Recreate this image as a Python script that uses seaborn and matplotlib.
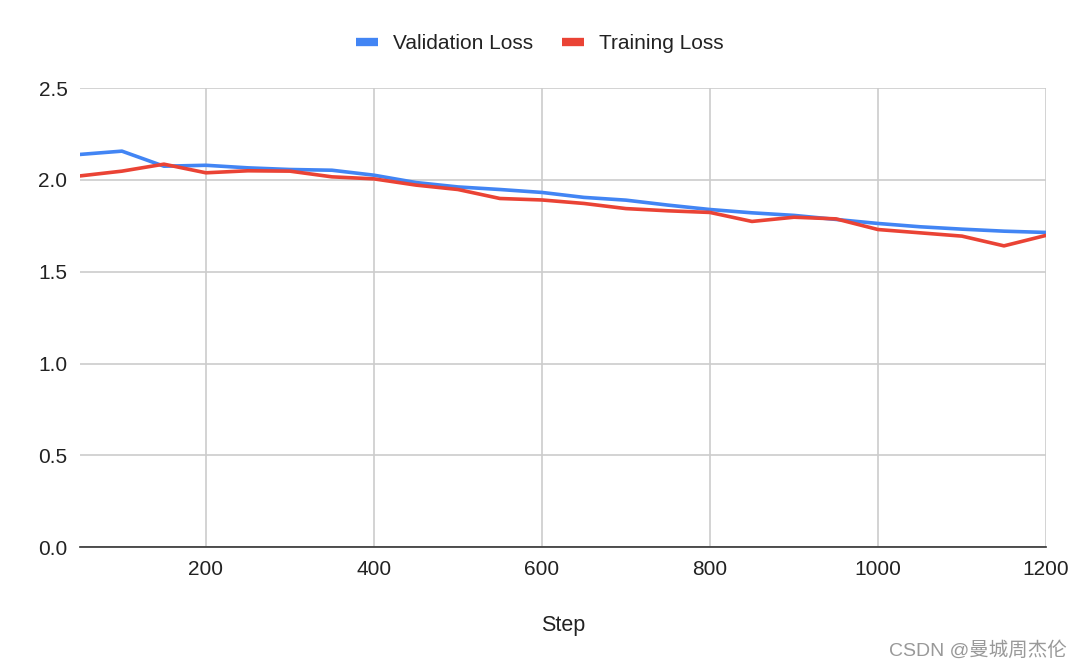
import numpy as np
import pandas as pd
import matplotlib
matplotlib.use('Agg')
import matplotlib.pyplot as plt
import seaborn as sns
sns.set_style('white')
plt.rcParams['font.family'] = ['Liberation Sans', 'Noto Sans CJK SC', 'DejaVu Sans']

steps = [50, 100, 150, 200, 250, 300, 350, 400, 450, 500, 550, 600,
         650, 700, 750, 800, 850, 900, 950, 1000, 1050, 1100, 1150, 1200]
val_loss = [2.139, 2.157, 2.075, 2.080, 2.066, 2.057, 2.053, 2.026, 1.986, 1.962, 1.948, 1.932,
            1.905, 1.890, 1.863, 1.839, 1.821, 1.807, 1.785, 1.763, 1.745, 1.732, 1.721, 1.714]
train_loss = [2.022, 2.048, 2.086, 2.039, 2.050, 2.048, 2.017, 2.006, 1.972, 1.948, 1.899, 1.891,
              1.872, 1.844, 1.832, 1.823, 1.774, 1.797, 1.788, 1.730, 1.712, 1.694, 1.641, 1.698]
x_ticks = [200, 400, 600, 800, 1000, 1200]
y_ticks = [0.0, 0.5, 1.0, 1.5, 2.0, 2.5]

df = pd.DataFrame({'Step': steps * 2,
                   'Loss': val_loss + train_loss,
                   'Series': ['Validation Loss'] * len(steps) + ['Training Loss'] * len(steps)})

fig = plt.figure(figsize=(10.8, 6.68), dpi=100)
ax = fig.add_axes([0.074, 0.181, 0.8945, 0.687])

sns.lineplot(data=df, x='Step', y='Loss', hue='Series',
             palette={'Validation Loss': '#4285f4', 'Training Loss': '#ea4335'},
             linewidth=2.6, ax=ax, legend=False)

ax.set_xlim(50, 1200)
ax.set_ylim(0, 2.5)
ax.set_xticks(x_ticks)
ax.set_yticks(y_ticks)
ax.set_yticklabels(['%.1f' % v for v in y_ticks])
ax.grid(True, color='#cccccc', linewidth=1.2)
ax.set_axisbelow(True)
for s in ['top', 'right', 'left']:
    ax.spines[s].set_visible(False)
ax.spines['bottom'].set_color('#333333')
ax.spines['bottom'].set_linewidth(1.2)
ax.tick_params(axis='both', length=0, labelsize=15, colors='#222222')
ax.tick_params(axis='x', pad=9)
ax.tick_params(axis='y', pad=9)
ax.set_xlabel('Step', fontsize=15.5, color='#222222', labelpad=26)
ax.set_ylabel('')

handles = [plt.Line2D([], [], color='#4285f4', linewidth=6, solid_capstyle='butt'),
           plt.Line2D([], [], color='#ea4335', linewidth=6, solid_capstyle='butt')]
fig.legend(handles, ['Validation Loss', 'Training Loss'], loc='center',
           bbox_to_anchor=(0.5, 0.935), ncol=2, frameon=False, fontsize=15,
           handlelength=1.06, columnspacing=1.4, handletextpad=0.72,
           labelcolor='#222222')

fig.text(0.988, 0.012, 'CSDN @曼城周杰伦', ha='right', va='bottom', fontsize=14,
         color='#999999', family=['Liberation Sans', 'Noto Sans CJK SC'])

fig.savefig('out.png', dpi=100)
